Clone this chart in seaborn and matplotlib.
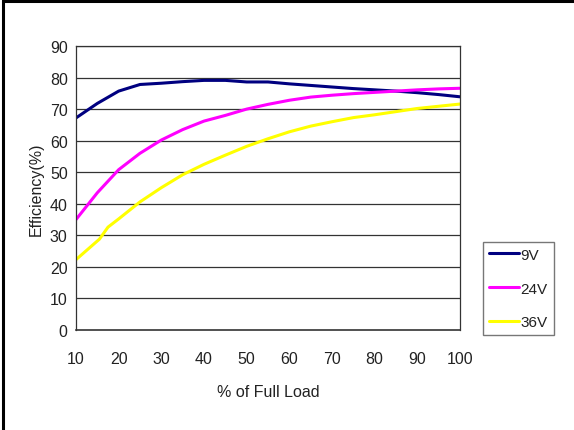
import matplotlib
matplotlib.use("Agg")
import matplotlib.pyplot as plt
from matplotlib.lines import Line2D
import seaborn as sns
import pandas as pd

# load (%) and efficiency (%)
load_9v = [10, 15, 20, 25, 30, 35, 40, 45, 50, 55, 60, 65, 70, 75, 80, 85, 90, 95, 100]
eff_9v = [67.2, 71.8, 75.7, 77.8, 78.2, 78.7, 79.1, 79.1, 78.6, 78.6, 78.0, 77.5, 77.0, 76.5, 76.1, 75.7, 75.2, 74.6, 73.9]

load_24v = [10, 15, 20, 25, 30, 35, 40, 45, 50, 55, 60, 65, 70, 75, 80, 85, 90, 95, 100]
eff_24v = [35.0, 43.5, 50.8, 56.0, 60.2, 63.5, 66.2, 68.0, 70.0, 71.5, 72.8, 73.8, 74.4, 74.9, 75.3, 75.7, 76.1, 76.4, 76.6]

load_36v = [10, 15.5, 17.5, 20, 25, 30, 35, 40, 45, 50, 55, 60, 65, 70, 75, 80, 85, 90, 95, 100]
eff_36v = [22.3, 28.8, 32.6, 35.2, 40.6, 45.1, 49.2, 52.5, 55.4, 58.2, 60.6, 62.8, 64.6, 66.0, 67.3, 68.2, 69.2, 70.2, 70.9, 71.6]

series_names = ["9V", "24V", "36V"]
series_colors = ["#000080", "#FF00FF", "#FFFF00"]

df = pd.concat([
    pd.DataFrame({"load": load_9v, "eff": eff_9v, "series": "9V"}),
    pd.DataFrame({"load": load_24v, "eff": eff_24v, "series": "24V"}),
    pd.DataFrame({"load": load_36v, "eff": eff_36v, "series": "36V"}),
])

sns.set_style("white")
plt.rcParams['font.family'] = ['Liberation Sans', 'DejaVu Sans']

fig = plt.figure(figsize=(5.74, 4.31), dpi=100)
ax = fig.add_axes([0.1324, 0.232, 0.669, 0.659])

# horizontal grid lines
for v in range(10, 91, 10):
    ax.axhline(v, color="#333333", lw=0.9, zorder=0)

sns.lineplot(data=df, x="load", y="eff", hue="series", hue_order=series_names,
             palette=series_colors, linewidth=2.2, ax=ax, legend=False,
             estimator=None, sort=False)

ax.set_xlim(10, 100)
ax.set_ylim(0, 90)
ax.set_xticks(range(10, 101, 10))
ax.set_yticks(range(0, 91, 10))
ax.tick_params(axis="x", direction="in", length=5, width=0.9, color="#222222",
               labelsize=11.5, pad=15)
ax.tick_params(axis="y", length=0, labelsize=11.5, pad=6)
for lbl in ax.get_xticklabels() + ax.get_yticklabels():
    lbl.set_color("#222222")
for sp in ax.spines.values():
    sp.set_visible(True)
    sp.set_color("#333333")
    sp.set_linewidth(0.9)
ax.spines["bottom"].set_linewidth(1.2)

ax.set_xlabel("% of Full Load", fontsize=11.5, color="#222222", labelpad=13)
ax.set_ylabel("Efficiency(%)", fontsize=11.5, color="#222222", labelpad=4)

handles = [Line2D([0], [0], color=c, lw=2.2) for c in series_colors]
leg = fig.legend(handles, series_names, loc="center left",
                 bbox_to_anchor=(0.841, 0.328), frameon=True, fancybox=False,
                 fontsize=11, handlelength=2.0, handletextpad=0.1,
                 labelspacing=1.3, borderpad=0.38, borderaxespad=0)
leg.get_frame().set_edgecolor("#555555")
leg.get_frame().set_linewidth(1.0)
for t in leg.get_texts():
    t.set_color("#222222")

# outer frame (top and left edges visible)
fig.add_artist(Line2D([0.006, 0.006], [0, 0.997], transform=fig.transFigure,
                      color="black", lw=2.2))
fig.add_artist(Line2D([0.006, 1.0], [0.996, 0.996], transform=fig.transFigure,
                      color="black", lw=2.2))

fig.savefig("out.png", dpi=100)
